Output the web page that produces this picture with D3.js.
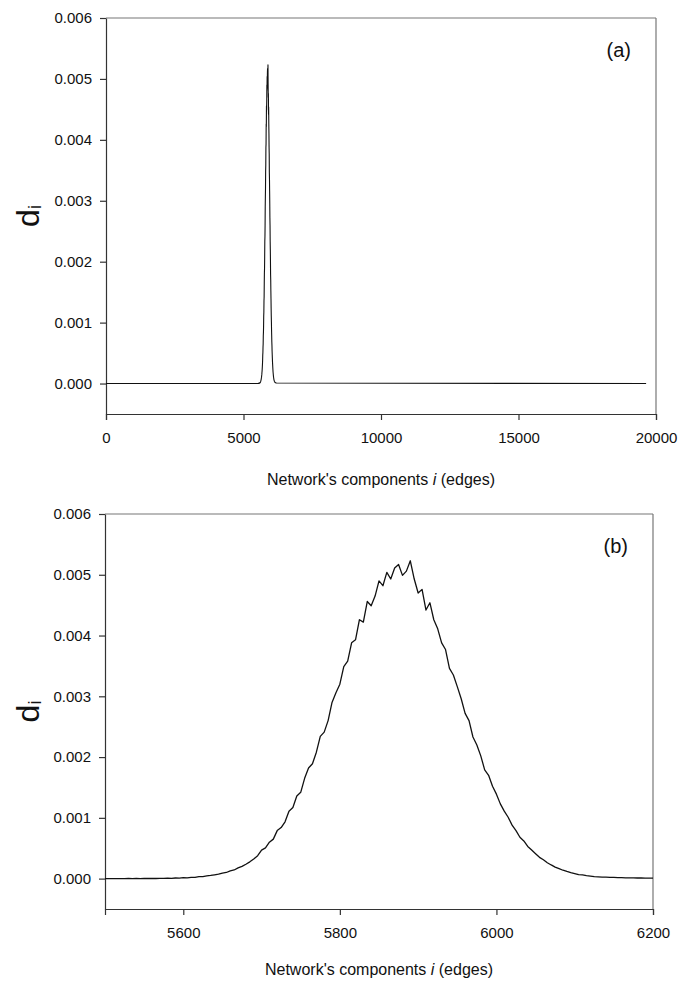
<!DOCTYPE html>
<html lang="en">
  <head>
    <meta charset="UTF-8" />
    <title>Network components distribution</title>
    <style>
      body { margin: 0; background: #fff; }
      svg { display: block; font-family: "Liberation Sans", Arial, sans-serif; }
      .tick text { font-size: 15px; fill: #111; }
    </style>
  </head>

  <body>

    <div id="chart"></div>

    <script src="https://cdn.jsdelivr.net/npm/d3@7"></script>
    <script>

      // d_i, one value every 5 edges from 5500 to 6200
      var binStart = 5500;
      var binStep = 5;
      var diValues = [
        0, 0.000001, 0, 0.000001, 0.000001, 0, 0.000002, 0.000001, 0.000002, 0.000001,
        0.000003, 0.000002, 0.000004, 0.000002, 0.000005, 0.000004, 0.000007, 0.000005, 0.00001, 0.000009,
        0.000015, 0.000013, 0.000022, 0.000019, 0.000032, 0.000034, 0.000045, 0.000052, 0.000063, 0.000074,
        0.000092, 0.000101, 0.000128, 0.000142, 0.000176, 0.000201, 0.000236, 0.000276, 0.000322, 0.000378,
        0.00047, 0.000505, 0.0006, 0.00065, 0.00079, 0.00084, 0.000935, 0.00111, 0.00117, 0.00136,
        0.00142, 0.00165, 0.00182, 0.00189, 0.00208, 0.00234, 0.00241, 0.0026, 0.0029, 0.00306,
        0.0032, 0.00349, 0.00358, 0.00388, 0.00393, 0.00426, 0.00422, 0.00456, 0.00449, 0.00465,
        0.0049, 0.00482, 0.00504, 0.00493, 0.00511, 0.00517, 0.00499, 0.00506, 0.00523, 0.00493,
        0.0047, 0.00476, 0.00442, 0.00454, 0.00426, 0.00411, 0.00388, 0.00377, 0.00346, 0.00335,
        0.00316, 0.00296, 0.00272, 0.0026, 0.00233, 0.0022, 0.00202, 0.00179, 0.0017, 0.00152,
        0.00139, 0.00123, 0.00111, 0.00101, 0.00088, 0.00079, 0.00068, 0.00062, 0.00053, 0.00047,
        0.00041, 0.00035, 0.00031, 0.000262, 0.000225, 0.00019, 0.000165, 0.000138, 0.000118, 0.0001,
        0.000084, 0.000066, 0.00006, 0.000048, 0.000042, 0.000034, 0.00003, 0.000025, 0.000024, 0.00002,
        0.000019, 0.000016, 0.000015, 0.000013, 0.000012, 0.000011, 0.00001, 0.00001, 0.000009, 0.000009,
        0.000008
      ];
      // flat zero ends of the full range shown in panel (a)
      var fullEnds = [0, 19640];

      var yTicks = [0, 0.001, 0.002, 0.003, 0.004, 0.005, 0.006];
      var xTicksA = [0, 5000, 10000, 15000, 20000];
      var xTicksB = [5600, 5800, 6000, 6200];

      var w = 681,
          h = 981;

      var binned = diValues.map(function(d, i) {
        return { x: binStart + i * binStep, y: d };
      });
      var fullSeries = [{ x: fullEnds[0], y: 0 }]
        .concat(binned)
        .concat([{ x: fullEnds[1], y: 0 }]);

      var svg = d3.select("#chart").append("svg")
        .attr("width", w)
        .attr("height", h);

      function drawPanel(p) {
        var xScale = d3.scaleLinear()
                       .domain(p.xDomain)
                       .range([p.left, p.right]);
        var yScale = d3.scaleLinear()
                       .domain([-0.0005, 0.006])
                       .range([p.bottom, p.top]);

        var g = svg.append("g");

        // frame: top and right
        g.append("line")
         .attr("x1", p.left).attr("x2", p.right)
         .attr("y1", p.top).attr("y2", p.top)
         .attr("stroke", "#777").attr("stroke-width", 1.2);
        g.append("line")
         .attr("x1", p.right).attr("x2", p.right)
         .attr("y1", p.top).attr("y2", p.bottom)
         .attr("stroke", "#777").attr("stroke-width", 1.2);

        var xAxis = d3.axisBottom(xScale)
                      .tickValues(p.xTicks)
                      .tickFormat(d3.format("d"))
                      .tickSize(6)
                      .tickSizeOuter(6)
                      .tickPadding(12);
        var yAxis = d3.axisLeft(yScale)
                      .tickValues(yTicks)
                      .tickFormat(d3.format(".3f"))
                      .tickSize(6)
                      .tickSizeOuter(0)
                      .tickPadding(8);

        var gx = g.append("g")
          .attr("transform", "translate(0," + p.bottom + ")")
          .call(xAxis);
        var gy = g.append("g")
          .attr("transform", "translate(" + p.left + ",0)")
          .call(yAxis);
        gx.selectAll("path, line").attr("stroke", "#333").attr("stroke-width", 1.2);
        gy.selectAll("path, line").attr("stroke", "#333").attr("stroke-width", 1.2);
        gx.attr("font-family", null).attr("font-size", null);
        gy.attr("font-family", null).attr("font-size", null);

        var line = d3.line()
                     .x(function(d) { return xScale(d.x); })
                     .y(function(d) { return yScale(d.y); });

        g.append("path")
         .datum(p.series)
         .attr("d", line)
         .attr("fill", "none")
         .attr("stroke", "#111")
         .attr("stroke-width", p.lineWidth)
         .attr("stroke-linejoin", "round");

        // panel tag
        g.append("text")
         .attr("x", p.right - 25)
         .attr("y", p.top + 39)
         .attr("text-anchor", "end")
         .attr("font-size", 20)
         .attr("fill", "#111")
         .text(p.tag);

        // y label d_i
        var yl = g.append("text")
         .attr("transform", "translate(39," + ((p.top + p.bottom) / 2) + ")rotate(-90)")
         .attr("text-anchor", "middle")
         .attr("fill", "#111");
        yl.append("tspan").attr("font-size", 32).text("d");
        yl.append("tspan").attr("font-size", 18).attr("dy", 2).text("i");

        // x title
        var xt = g.append("text")
         .attr("x", (p.left + p.right) / 2)
         .attr("y", p.titleY)
         .attr("text-anchor", "middle")
         .attr("font-size", 16)
         .attr("fill", "#111");
        xt.append("tspan").text("Network's components ");
        xt.append("tspan").attr("font-style", "italic").text("i");
        xt.append("tspan").text(" (edges)");
      }

      drawPanel({
        left: 106, right: 656, top: 18, bottom: 414,
        xDomain: [0, 20000], xTicks: xTicksA,
        series: fullSeries, tag: "(a)", titleY: 485, lineWidth: 1.1
      });

      drawPanel({
        left: 105, right: 653, top: 514, bottom: 909,
        xDomain: [5500, 6200], xTicks: xTicksB,
        series: binned, tag: "(b)", titleY: 975, lineWidth: 1.3
      });

    </script>
  </body>
</html>
